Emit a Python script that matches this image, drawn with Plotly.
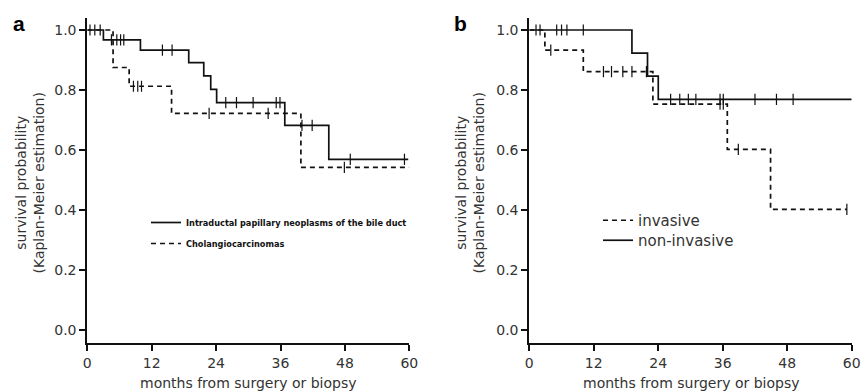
import numpy as np
import plotly.graph_objects as go

# ---------------- data ----------------
# Panel a: IPNB (solid) vs cholangiocarcinoma (dashed)
a_ipnb_time = [0, 3.0, 9.9, 18.9, 21.7, 23.0, 24.1, 36.8, 45.0, 59.8]
a_ipnb_surv = [1.0, 0.967, 0.933, 0.891, 0.847, 0.802, 0.758, 0.682, 0.569, 0.569]
a_ipnb_cens = [0.5, 1.4, 2.4, 4.5, 5.5, 6.2, 6.8, 14.0, 15.8, 25.8, 27.8, 30.9, 35.2, 35.9, 40.0, 41.9, 49.0, 59.1]

a_cc_time = [0, 4.8, 7.8, 15.7, 39.8, 60.0]
a_cc_surv = [1.0, 0.875, 0.8125, 0.722, 0.542, 0.542]
a_cc_cens = [8.6, 9.4, 10.1, 22.7, 33.7, 47.9]

# Panel b: invasive (dashed) vs non-invasive (solid)
b_inv_time = [0, 2.9, 10.05, 23.0, 36.85, 44.9, 59.1]
b_inv_surv = [1.0, 0.933, 0.861, 0.753, 0.602, 0.402, 0.402]
b_inv_cens = [4.0, 13.8, 15.3, 17.4, 19.1, 21.8, 35.5, 36.1, 38.9, 59.1]

b_ni_time = [0, 19.1, 22.0, 24.0, 60.0]
b_ni_surv = [1.0, 0.923, 0.846, 0.769, 0.769]
b_ni_cens = [1.25, 2.0, 5.1, 6.0, 7.0, 10.05, 26.3, 28.0, 29.6, 31.0, 35.5, 36.1, 42.0, 46.0, 49.1]

x_ticks = [0, 12, 24, 36, 48, 60]
y_ticks = [0.0, 0.2, 0.4, 0.6, 0.8, 1.0]

label_ipnb = "Intraductal papillary neoplasms of the bile duct"
label_cc = "Cholangiocarcinomas"
label_inv = "invasive"
label_ni = "non-invasive"

# ---------------- helpers ----------------
FONT = "DejaVu Sans, Arial, sans-serif"
INK = "#111111"
TXT = "#333333"


def step_value(times, surv, t):
    idx = np.searchsorted(np.asarray(times), np.asarray(t), side="right") - 1
    return np.asarray(surv)[np.clip(idx, 0, len(surv) - 1)]


fig = go.Figure()


def add_curve(times, surv, cens, name, dash, xa, ya, legend):
    fig.add_trace(go.Scatter(
        x=times, y=surv, mode="lines", line_shape="hv", name=name,
        line=dict(color=INK, width=1.7, dash=dash),
        xaxis=xa, yaxis=ya, legend=legend, legendgroup=name,
    ))
    fig.add_trace(go.Scatter(
        x=cens, y=step_value(times, surv, cens), mode="markers",
        marker=dict(symbol="line-ns-open", size=8, color=INK, line=dict(color=INK, width=1.2)),
        xaxis=xa, yaxis=ya, showlegend=False, hoverinfo="skip",
    ))


DASH = "5px,4px"
add_curve(a_ipnb_time, a_ipnb_surv, a_ipnb_cens, label_ipnb, "solid", "x", "y", "legend")
add_curve(a_cc_time, a_cc_surv, a_cc_cens, label_cc, DASH, "x", "y", "legend")
add_curve(b_inv_time, b_inv_surv, b_inv_cens, label_inv, DASH, "x2", "y2", "legend2")
add_curve(b_ni_time, b_ni_surv, b_ni_cens, label_ni, "solid", "x2", "y2", "legend3")

W, H = 861, 392
xdomA = [87.3 / W, 409.3 / W]
xdomB = [529.3 / W, 851.7 / W]
ydom = [1 - 342.7 / H, 1 - 18 / H]
yrange = [-0.0423, 1.04]

axis_common = dict(
    showline=True, linewidth=2, linecolor=INK, showgrid=False, zeroline=False,
    ticks="outside", ticklen=6, tickwidth=2, tickcolor=INK, automargin=False,
    tickfont=dict(family=FONT, size=14, color=TXT),
)

legB_font = dict(family=FONT, size=15, color=TXT)
fig.update_layout(
    width=W, height=H, margin=dict(l=0, r=0, t=0, b=0, pad=0, autoexpand=False),
    paper_bgcolor="white", plot_bgcolor="white",
    xaxis=dict(domain=xdomA, range=[0, 60], tickvals=x_ticks, anchor="y", **axis_common),
    yaxis=dict(domain=ydom, range=yrange, tickvals=y_ticks, tickformat=".1f", anchor="x", **axis_common),
    xaxis2=dict(domain=xdomB, range=[0, 60], tickvals=x_ticks, anchor="y2", **axis_common),
    yaxis2=dict(domain=ydom, range=yrange, tickvals=y_ticks, tickformat=".1f", anchor="x2", **axis_common),
    legend=dict(x=146 / W, y=1 - 208 / H, xanchor="left", yanchor="top",
                font=dict(family=FONT, size=8.2, color=INK, weight="bold"),
                bgcolor="rgba(0,0,0,0)", traceorder="grouped", tracegroupgap=2),
    legend2=dict(x=598 / W, y=1 - 204 / H, xanchor="left", yanchor="top",
                 font=legB_font, bgcolor="rgba(0,0,0,0)"),
    legend3=dict(x=598 / W, y=1 - 224 / H, xanchor="left", yanchor="top",
                 font=legB_font, bgcolor="rgba(0,0,0,0)"),
    showlegend=True,
)

ytitle = "survival probability<br>(Kaplan-Meier estimation)"
xtitle = "months from surgery or biopsy"
annots = [
    dict(text="a", x=19 / W, y=1 - 24 / H, font=dict(family="Liberation Sans, Arial", size=21, color="#000", weight="bold")),
    dict(text="b", x=460 / W, y=1 - 24 / H, font=dict(family="Liberation Sans, Arial", size=21, color="#000", weight="bold")),
    dict(text=ytitle, x=29.5 / W, y=1 - 183 / H, textangle=-90, font=dict(family=FONT, size=14, color=TXT)),
    dict(text=ytitle, x=469.5 / W, y=1 - 183 / H, textangle=-90, font=dict(family=FONT, size=14, color=TXT)),
    dict(text=xtitle, x=248 / W, y=1 - 383 / H, font=dict(family=FONT, size=14, color=TXT)),
    dict(text=xtitle, x=690.5 / W, y=1 - 383 / H, font=dict(family=FONT, size=14, color=TXT)),
]
for a in annots:
    fig.add_annotation(xref="paper", yref="paper", showarrow=False,
                       xanchor="center", yanchor="middle", **a)

fig.write_html("out.html", config={"displayModeBar": False},
               post_script="document.body.style.margin='0px';")
